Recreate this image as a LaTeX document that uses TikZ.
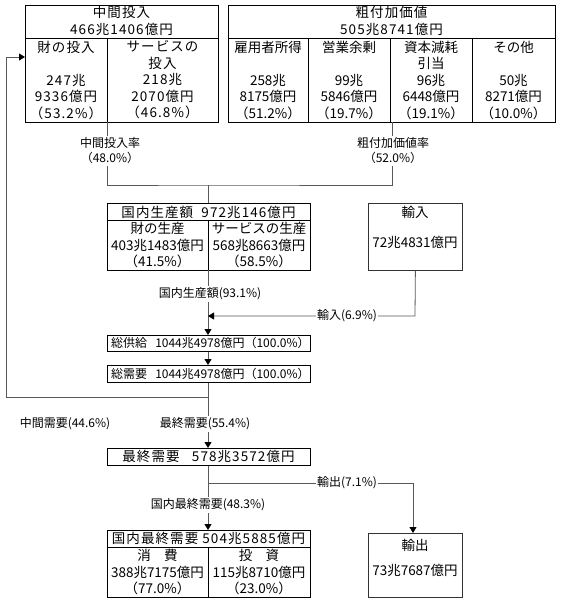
\documentclass[tikz,border=0pt]{standalone}
\usepackage{fontspec}
\setmainfont{Noto Sans CJK JP}
\newfontfamily\wide[LetterSpace=8]{Noto Sans CJK JP}
\usetikzlibrary{arrows.meta}
\begin{document}
\begin{tikzpicture}[x=1pt,y=-1pt,
  box/.style={draw=black,line width=1.2pt,inner sep=0pt,anchor=north west},
  tbox/.style={draw=black!80,line width=0.8pt,inner sep=0pt,anchor=north west},
  cell/.style={align=center,font=\fontsize{13.5}{16.5}\selectfont,inner sep=0pt},
  wcell/.style={cell,font=\wide\fontsize{13.5}{16.5}\selectfont},
  rowtxt/.style={cell,anchor=west,font=\fontsize{12}{15}\selectfont},
  lbl/.style={fill=white,inner sep=1.5pt,align=center,font=\fontsize{12}{15}\selectfont},
  conn/.style={draw=black!65,line width=0.8pt},
  arr/.style={conn,-{Triangle[length=6pt,width=7pt,color=black]}},
  divl/.style={draw=black,line width=0.8pt}]
\useasboundingbox (0,0) rectangle (560,600);

% ---- 中間投入 ----
\node[box,minimum width=193pt,minimum height=117pt] (mi) at (25,5) {};
\draw[divl] (25,38) -- (218,38);
\draw[divl] (107,38) -- (107,122);
\node[wcell] (mit) at (121.5,21) {中間投入\\466兆1406億円};
\node[wcell] (mig) at (66,80) {財の投入\\[16.5pt]247兆\\9336億円\\（53.2\%）};
\node[wcell] (mis) at (162.5,80) {サービスの\\投入\\218兆\\2070億円\\（46.8\%）};

% ---- 粗付加価値 ----
\node[box,minimum width=327pt,minimum height=117pt] (va) at (228,5) {};
\draw[divl] (228,38) -- (555,38);
\draw[divl] (308,38) -- (308,122);
\draw[divl] (390,38) -- (390,122);
\draw[divl] (472,38) -- (472,122);
\node[wcell] (vat) at (391.5,21) {粗付加価値\\505兆8741億円};
\node[cell] (va1) at (268,80) {雇用者所得\\[16.5pt]258兆\\8175億円\\（51.2\%）};
\node[cell] (va2) at (349,80) {営業余剰\\[16.5pt]99兆\\5846億円\\（19.7\%）};
\node[cell] (va3) at (431,80) {資本減耗\\引当\\96兆\\6448億円\\（19.1\%）};
\node[cell] (va4) at (513.5,80) {その他\\[16.5pt]50兆\\8271億円\\（10.0\%）};

% ---- 国内生産額 ----
\node[box,minimum width=203pt,minimum height=67pt] (pd) at (107,203) {};
\draw[divl] (107,220) -- (310,220);
\draw[divl] (208,220) -- (208,270);
\node[wcell] (pdt) at (208.5,212) {国内生産額\ \ 972兆146億円};
\node[cell] (pdg) at (157.5,245) {財の生産\\403兆1483億円\\（41.5\%）};
\node[cell] (pds) at (259,245) {サービスの生産\\568兆8663億円\\（58.5\%）};

% ---- 輸入 ----
\node[tbox,minimum width=94pt,minimum height=67pt] (im) at (368,203) {};
\node[cell] (imt) at (415,212) {輸入};
\node[cell] (imv) at (415,242) {72兆4831億円};

% ---- 総供給 / 総需要 ----
\node[box,minimum width=203pt,minimum height=16pt] (ts) at (107,335) {};
\node[rowtxt] (tst) at (111,343) {総供給\ \ \ 1044兆4978億円（100.0\%）};
\node[box,minimum width=203pt,minimum height=17pt] (td) at (107,365) {};
\node[rowtxt] (tdt) at (111,373.5) {総需要\ \ \ 1044兆4978億円（100.0\%）};

% ---- 最終需要 ----
\node[box,minimum width=203pt,minimum height=17pt] (fd) at (107,448) {};
\node[wcell] (fdt) at (208.5,456.5) {最終需要\ \ \ 578兆3572億円};

% ---- 国内最終需要 ----
\node[box,minimum width=203pt,minimum height=67pt] (dfd) at (107,530) {};
\draw[divl] (107,547) -- (310,547);
\draw[divl] (208,547) -- (208,597);
\node[wcell] (dfdt) at (208.5,538.5) {国内最終需要\ 504兆5885億円};
\node[cell] (dfc) at (157.5,572) {消\quad 費\\388兆7175億円\\（77.0\%）};
\node[cell] (dfi) at (259,572) {投\quad 資\\115兆8710億円\\（23.0\%）};

% ---- 輸出 ----
\node[tbox,minimum width=94pt,minimum height=64pt] (ex) at (368,533) {};
\node[cell] (ext) at (415,545) {輸出};
\node[cell] (exv) at (415,570) {73兆7687億円};

% ---- connectors ----
\coordinate (miout) at (107,122);
\coordinate (vaout) at (392,122);
\coordinate (jn) at (208,185);
\draw[conn] (miout) |- (jn) -| (vaout);
\draw[conn] (jn) -- (pd.north -| jn);
\node[lbl] (lmi) at (110,151) {中間投入率\\（48.0\%）};
\node[lbl] (lva) at (393,151) {粗付加価値率\\（52.0\%）};

\coordinate (pdout) at (208,270);
\draw[arr] (pdout) -- (ts.north -| pdout);
\node[lbl] (lpd) at (210,294) {国内生産額(93.1\%)};

\coordinate (imturn) at (415,316);
\draw[arr] (im.south) -- (imturn) -- (imturn -| pdout);
\node[lbl] (lim) at (347,316) {輸入(6.9\%)};

\draw[arr] (ts.south -| pdout) -- (td.north -| pdout);

\coordinate (sp) at (208,397);
\coordinate (lc) at (6,397);
\coordinate (uc) at (6,57);
\draw[conn] (td.south -| pdout) -- (sp) -- (lc) -- (uc);
\draw[arr] (uc) -- (mi.west |- uc);
\draw[arr] (sp) -- (fd.north -| sp);
\node[lbl] (lmd) at (65,424) {中間需要(44.6\%)};
\node[lbl] (lfd) at (205,424) {最終需要(55.4\%)};

\coordinate (ej) at (208,483);
\coordinate (et) at (413,483);
\draw[arr] (fd.south -| ej) -- (dfd.north -| ej);
\draw[arr] (ej) -- (et) -- (ex.north -| et);
\node[lbl] (lex) at (347,483) {輸出(7.1\%)};
\node[lbl] (ldf) at (208,505) {国内最終需要(48.3\%)};
\end{tikzpicture}
\end{document}
